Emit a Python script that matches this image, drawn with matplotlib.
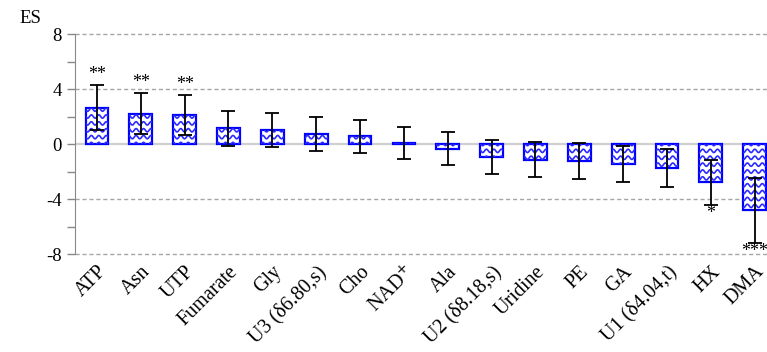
import numpy as np
import matplotlib
matplotlib.use('Agg')
import matplotlib.pyplot as plt
from matplotlib.collections import LineCollection

plt.rcParams['font.family'] = ['Liberation Serif', 'DejaVu Serif']

# Metabolites, effect sizes and error half-widths
names = ['ATP', 'Asn', 'UTP', 'Fumarate', 'Gly', 'U3 (δ6.80,s)', 'Cho',
         'NAD$^{+}$', 'Ala', 'U2 (δ8.18,s)', 'Uridine', 'PE', 'GA',
         'U1 (δ4.04,t)', 'HX', 'DMA']
es = [2.63, 2.20, 2.10, 1.15, 1.02, 0.73, 0.55, 0.06, -0.33, -0.96,
      -1.15, -1.24, -1.47, -1.75, -2.78, -4.82]
err = [1.63, 1.50, 1.47, 1.28, 1.25, 1.23, 1.20, 1.18, 1.20, 1.25,
       1.27, 1.29, 1.32, 1.40, 1.64, 2.35]
stars = ['**', '**', '**', '', '', '', '', '', '', '', '', '', '', '', '*', '***']

yticks = [-8, -4, 0, 4, 8]

fig = plt.figure(figsize=(7.67, 3.52), dpi=100)
ax = fig.add_axes([0.0978, 0.2784, 0.9022, 0.625])

x = np.arange(len(names))
bars = ax.bar(x, es, width=0.52, color='white', edgecolor='#0000ff',
              linewidth=1.6, zorder=3)

# wavy hatch, clipped to each bar
xw = np.linspace(-1, len(names) + 1, 2000)
rows = np.arange(-9, 9, 0.5)
segs = []
for r in rows:
    yw = r + 0.12 * np.sin(2 * np.pi * xw / 0.17)
    segs.append(np.column_stack([xw, yw]))
for b in bars:
    lc = LineCollection(segs, colors='#2a2aff', linewidths=1.2, zorder=3)
    ax.add_collection(lc)
    lc.set_clip_path(b)

ax.errorbar(x, es, yerr=err, fmt='none', ecolor='black', elinewidth=1.3,
            capsize=5, capthick=1.3, zorder=4)

for xi, v, e, s in zip(x, es, err, stars):
    if not s:
        continue
    if v > 0:
        ax.text(xi, v + e + 0.15, s, ha='center', va='bottom', fontsize=13)
    else:
        ax.text(xi, v - e - 0.05, s, ha='center', va='top', fontsize=13)

for yv in [-8, -4, 4, 8]:
    ax.axhline(yv, color='#a6a6a6', lw=1.0, ls=(0, (3, 2)), zorder=1,
               clip_on=False)
ax.axhline(0, color='#cfcfcf', lw=1.6, zorder=2)

ax.set_xlim(-0.5, len(names) - 0.72)
ax.set_ylim(-8, 8)
ax.set_yticks(yticks)
ax.set_yticklabels([str(t) for t in yticks], fontsize=13.5)
ax.set_yticks(np.arange(-8, 9, 2), minor=True)
ax.tick_params(axis='y', which='both', length=6, color='#888888', width=1)
ax.set_xticks(x)
ax.set_xticklabels(names, rotation=45, ha='right', rotation_mode='anchor',
                   fontsize=14.5)
ax.tick_params(axis='x', length=0, pad=6)

for sp in ['top', 'right', 'bottom']:
    ax.spines[sp].set_visible(False)
ax.spines['left'].set_color('#888888')

fig.text(0.026, 0.935, 'ES', fontsize=13.5)

fig.savefig('out.png', dpi=100)
